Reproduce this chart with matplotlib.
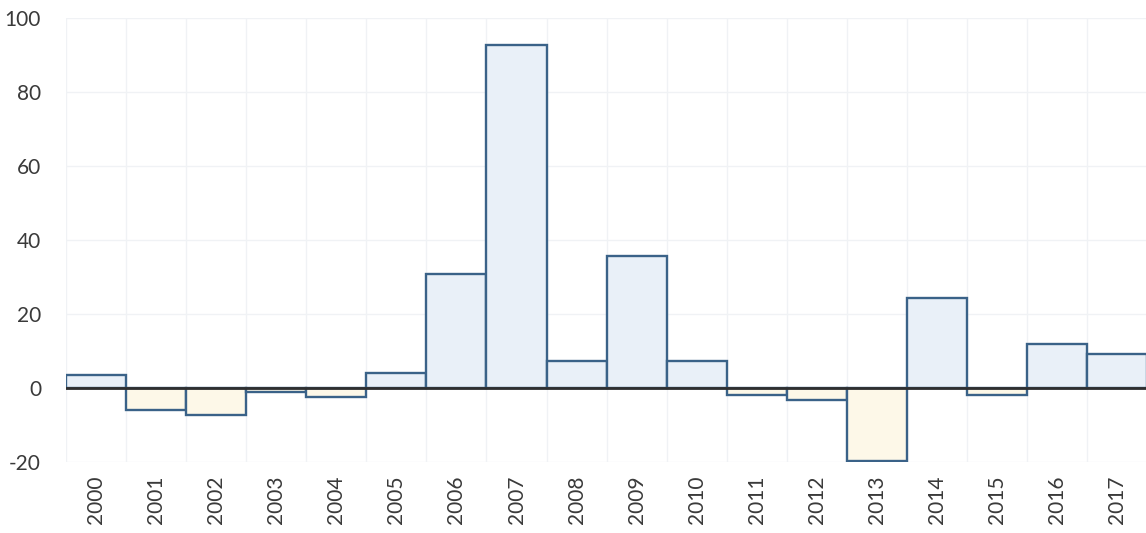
import matplotlib.pyplot as plt

years = ['2000', '2001', '2002', '2003', '2004', '2005', '2006', '2007', '2008',
         '2009', '2010', '2011', '2012', '2013', '2014', '2015', '2016', '2017']
values = [3.5, -6, -7.3, -1, -2.3, 4, 30.7, 92.7, 7.2,
          35.8, 7.2, -1.8, -3.2, -19.8, 24.2, -2, 12, 9.2]
y_ticks = [-20, 0, 20, 40, 60, 80, 100]

plt.rcParams['font.family'] = ['Lato', 'DejaVu Sans']

fig = plt.figure(figsize=(11.46, 5.33), dpi=100)
ax = fig.add_axes([66 / 1146, 1 - 462 / 533, 1 - 66 / 1146, (462 - 18) / 533])

colors = ['#e9f0f8' if v >= 0 else '#fdf8e8' for v in values]
x = range(len(years))
ax.bar(x, values, width=1.0, color=colors, edgecolor='#3a6288', linewidth=1.7, zorder=2)
ax.axhline(0, color='#2f2f2f', linewidth=2, zorder=3)

ax.set_xlim(-0.5, 17.48)
ax.set_ylim(-20, 100)
ax.set_yticks(y_ticks)
ax.set_yticklabels([str(t) for t in y_ticks])
ax.set_xticks(list(x))
ax.set_xticklabels(years, rotation=90)

# faint grid: horizontal at ticks, vertical on bar edges
for t in y_ticks:
    ax.axhline(t, color='#f0f2f5', linewidth=1, zorder=0)
for i in range(len(years) + 1):
    ax.axvline(i - 0.5, color='#f0f2f5', linewidth=1, zorder=0)

for s in ax.spines.values():
    s.set_visible(False)
ax.tick_params(axis='both', length=0, labelsize=15, labelcolor='#3a3a3a')
ax.tick_params(axis='y', pad=18)
ax.tick_params(axis='x', pad=10)

fig.savefig('out.png', dpi=100)
